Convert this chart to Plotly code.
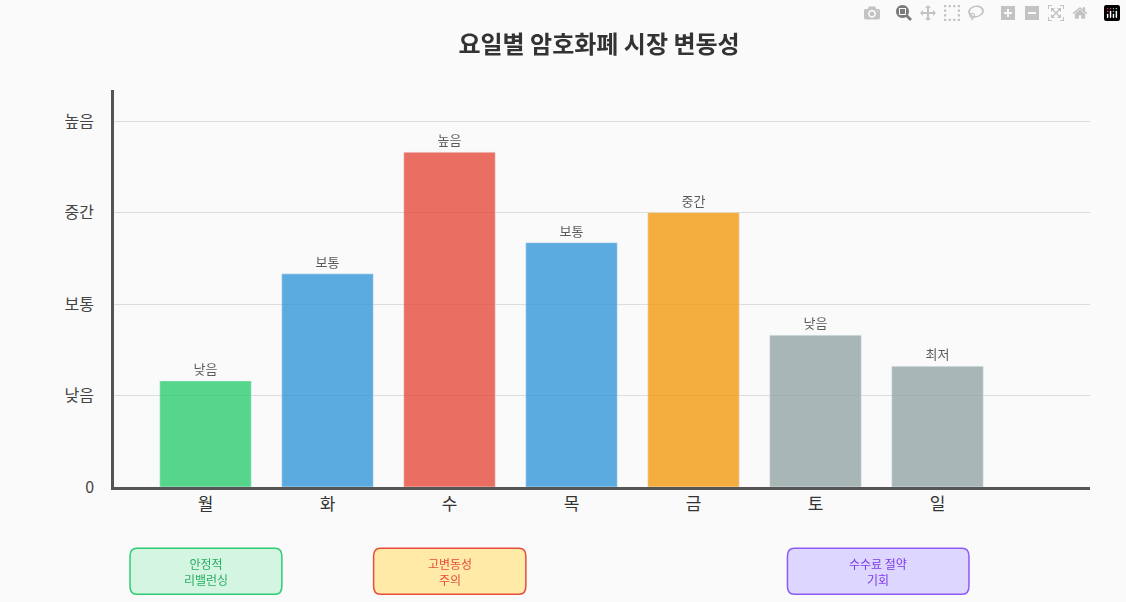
import plotly.graph_objects as go

days = ["월", "화", "수", "목", "금", "토", "일"]
volatility = [1.16, 2.33, 3.66, 2.67, 3.0, 1.66, 1.32]
bar_labels = ["낮음", "보통", "높음", "보통", "중간", "낮음", "최저"]
bar_colors = ["#2ecc71", "#3498db", "#e74c3c", "#3498db", "#f39c12", "#95a5a6", "#95a5a6"]
tick_vals = [0, 1, 2, 3, 4]
tick_text = ["0", "낮음", "보통", "중간", "높음"]

notes = [
    ("안정적<br>리밸런싱", 0.0164, 0.172, "#d5f5e3", "#2ecc71", "#27ae60"),
    ("고변동성<br>주의", 0.266, 0.422, "#ffeaa7", "#e74c3c", "#e74c3c"),
    ("수수료 절약<br>기회", 0.690, 0.876, "#ddd6fe", "#8b5cf6", "#7c3aed"),
]

FONT = "Noto Sans CJK KR"

fig = go.Figure(go.Bar(
    x=list(range(len(days))), y=volatility, marker_color=bar_colors, opacity=0.8,
    width=0.75, text=bar_labels, textposition="outside",
    textfont=dict(size=13, color="#333"), cliponaxis=False,
))


def rounded(x0, x1, y0, y1, rx=0.007, ry=0.02):
    return (f"M {x0+rx},{y0} L {x1-rx},{y0} Q {x1},{y0} {x1},{y0+ry} "
            f"L {x1},{y1-ry} Q {x1},{y1} {x1-rx},{y1} L {x0+rx},{y1} "
            f"Q {x0},{y1} {x0},{y1-ry} L {x0},{y0+ry} Q {x0},{y0} {x0+rx},{y0} Z")


for text, x0, x1, fill, line, tc in notes:
    fig.add_shape(type="path", path=rounded(x0, x1, -0.27, -0.154), xref="paper", yref="paper",
                  fillcolor=fill, line=dict(color=line, width=1.5), layer="below")
    fig.add_annotation(text=text, x=(x0 + x1) / 2, y=-0.212, xref="paper", yref="paper",
                       xanchor="center", yanchor="middle",
                       showarrow=False, font=dict(size=12, color=tc))

fig.update_layout(
    width=1126, height=602, paper_bgcolor="#fafafa", plot_bgcolor="#fafafa",
    margin=dict(l=114, r=36, t=90, b=115), showlegend=False,
    font=dict(family=FONT),
    title=dict(text="<b>요일별 암호화폐 시장 변동성</b>", x=0.532, y=0.94, xanchor="center",
               font=dict(size=24, color="#333")),
)
fig.update_xaxes(range=[-0.75, 7.25], tickvals=list(range(len(days))), ticktext=days,
                 showline=True, linecolor="#555", linewidth=2.5, showgrid=False,
                 tickfont=dict(size=17, color="#333"), ticks="")
fig.update_yaxes(range=[0, 4.34], tickvals=tick_vals, ticktext=tick_text,
                 showline=True, linecolor="#555", linewidth=2.5, gridcolor="#dddddd",
                 tickfont=dict(size=16, color="#444"), ticklabelstandoff=14, zeroline=False)

fig.write_html("out.html", post_script="document.body.style.margin='0';")
